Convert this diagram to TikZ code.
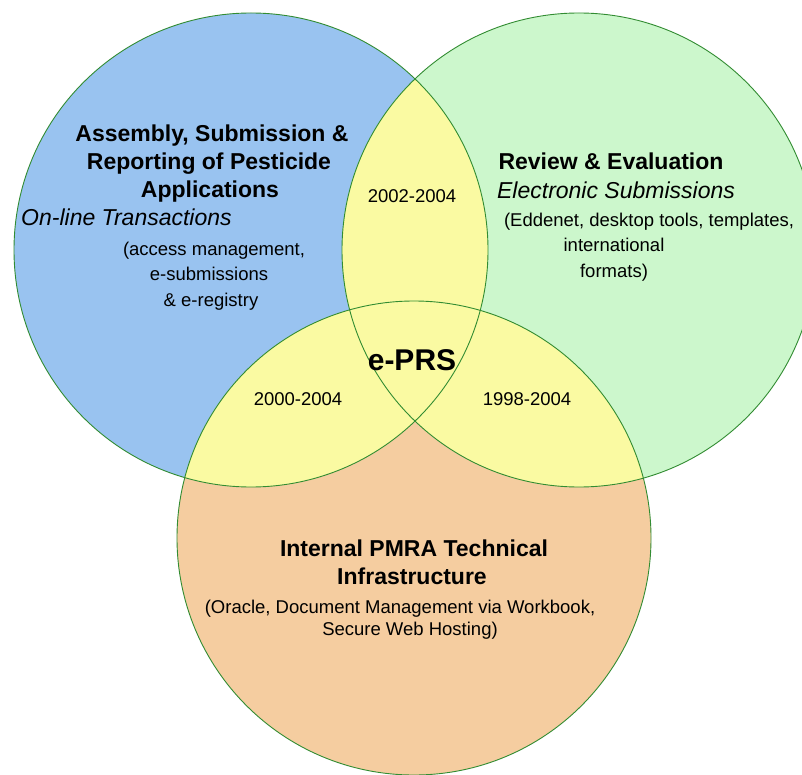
\documentclass[tikz,border=0pt]{standalone}
\usepackage{fontspec}
\setmainfont{Liberation Sans}
\definecolor{cblue}{RGB}{153,195,240}
\definecolor{cgreen}{RGB}{204,247,204}
\definecolor{cyellow}{RGB}{250,250,162}
\definecolor{corange}{RGB}{245,205,160}
\definecolor{cline}{RGB}{50,140,50}
\begin{document}
\begin{tikzpicture}[x=1pt,y=-1pt,
  ring/.style={draw=cline,line width=0.9pt},
  ttl/.style={font=\fontsize{23}{28}\selectfont\bfseries,anchor=base,inner sep=0pt},
  sub/.style={font=\fontsize{23}{28}\selectfont\itshape,anchor=base,inner sep=0pt},
  txt/.style={font=\fontsize{18.5}{24}\selectfont,anchor=base,inner sep=0pt},
  big/.style={font=\fontsize{30}{34}\selectfont\bfseries,anchor=base,inner sep=0pt}]
\fill[white] (0,0) rectangle (802,775);
\useasboundingbox (0,0) rectangle (802,775);
\coordinate (cb) at (251,250);
\coordinate (cg) at (579,250);
\coordinate (co) at (414,538);
\fill[cblue] (cb) circle [radius=237pt];
\fill[cgreen] (cg) circle [radius=237pt];
\fill[corange] (co) circle [radius=237pt];
\begin{scope}
  \clip (cb) circle [radius=237pt];
  \fill[cyellow] (cg) circle [radius=237pt];
  \fill[cyellow] (co) circle [radius=237pt];
\end{scope}
\begin{scope}
  \clip (cg) circle [radius=237pt];
  \fill[cyellow] (co) circle [radius=237pt];
\end{scope}
\draw[ring] (cb) circle [radius=237pt];
\draw[ring] (cg) circle [radius=237pt];
\draw[ring] (co) circle [radius=237pt];
% blue circle text
\node[ttl] (a1) at (212,142) {Assembly, Submission \&};
\node[ttl] (a2) at (209,170) {Reporting of Pesticide};
\node[ttl] (a3) at (210,198) {Applications};
\node[sub,anchor=base west] (a4) at (21,226) {On-line Transactions};
\node[txt] (a5) at (214,256) {(access management,};
\node[txt] (a6) at (209,280) {e-submissions};
\node[txt] (a7) at (211,306) {\& e-registry};
% green circle text
\node[ttl] (g1) at (611,170) {Review \& Evaluation};
\node[sub] (g2) at (616,199) {Electronic Submissions};
\node[txt] (g3) at (649,227) {(Eddenet, desktop tools, templates,};
\node[txt] (g4) at (614,252) {international};
\node[txt] (g5) at (614,278) {formats)};
% intersections
\node[txt] (y1) at (412,203) {2002-2004};
\node[big] (ep) at (412,370) {e-PRS};
\node[txt] (y2) at (298,405) {2000-2004};
\node[txt] (y3) at (527,405) {1998-2004};
% orange circle text
\node[ttl] (o1) at (414,556) {Internal PMRA Technical};
\node[ttl] (o2) at (412,584) {Infrastructure};
\node[txt] (o3) at (400,613) {(Oracle, Document Management via Workbook,};
\node[txt] (o4) at (410,635) {Secure Web Hosting)};
\end{tikzpicture}
\end{document}
